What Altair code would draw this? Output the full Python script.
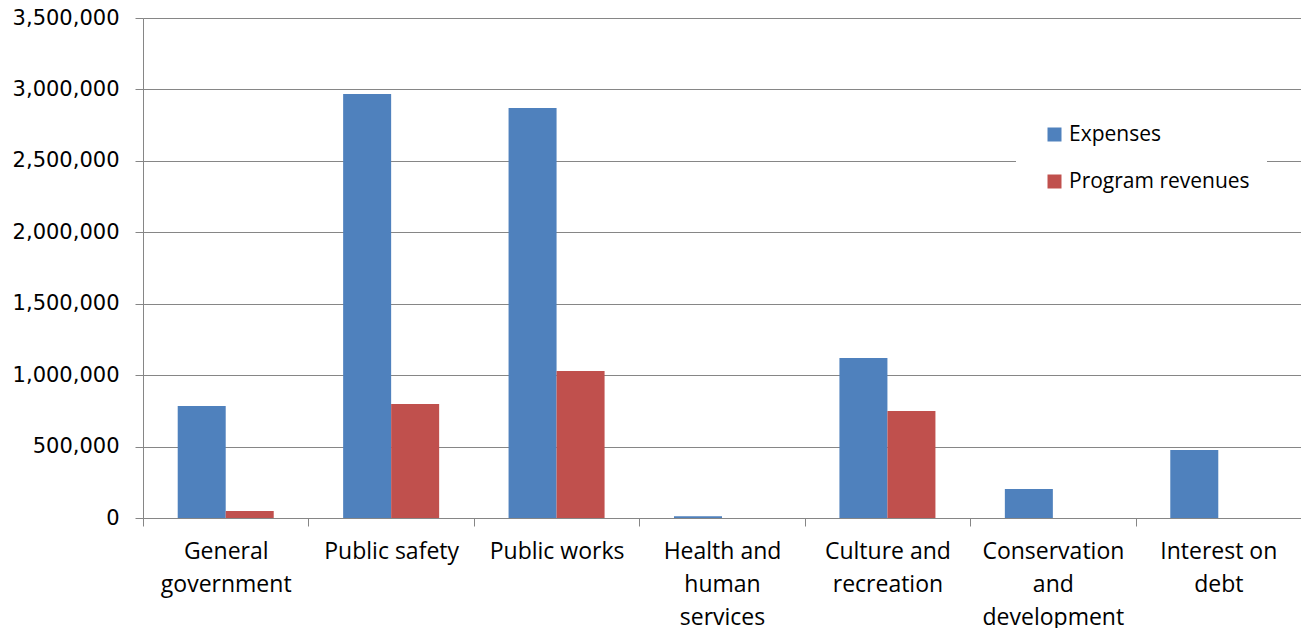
import altair as alt
import pandas as pd

categories = [
    "General|government",
    "Public safety",
    "Public works",
    "Health and|human|services",
    "Culture and|recreation",
    "Conservation|and|development",
    "Interest on|debt",
]
expenses = [784000, 2968000, 2870000, 12000, 1120000, 203000, 476000]
program_revenues = [49000, 798000, 1029000, 0, 749000, 0, 0]
series = ["Expenses", "Program revenues"]
colors = ["#4F81BD", "#C0504D"]
y_ticks = [0, 500000, 1000000, 1500000, 2000000, 2500000, 3000000, 3500000]

rows = []
for c, e, r in zip(categories, expenses, program_revenues):
    rows.append({"category": c, "series": series[0], "value": e})
    rows.append({"category": c, "series": series[1], "value": r})
df = pd.DataFrame(rows)

chart = alt.Chart(df).mark_bar().encode(
    x=alt.X(
        "category:N",
        sort=categories,
        scale=alt.Scale(paddingInner=0, paddingOuter=0),
        axis=alt.Axis(
            title=None,
            labelAngle=0,
            labelExpr="split(datum.label, '|')",
            labelFont="Open Sans",
            labelFontSize=23,
            labelColor="#000000",
            labelLineHeight=33,
            labelPadding=14,
            labelBaseline="top",
            labelLimit=300,
            tickBand="extent",
            tickSize=8,
            tickColor="#868686",
            domainColor="#868686",
            grid=False,
        ),
    ),
    xOffset=alt.XOffset(
        "series:N",
        sort=series,
        scale=alt.Scale(paddingInner=0, paddingOuter=0.723),
    ),
    y=alt.Y(
        "value:Q",
        scale=alt.Scale(domain=[0, 3500000], nice=False),
        axis=alt.Axis(
            title=None,
            values=y_ticks,
            format=",d",
            labelFont="DejaVu Sans",
            labelFontSize=21,
            labelColor="#000000",
            labelPadding=16,
            tickSize=8,
            tickColor="#868686",
            domainColor="#868686",
            gridColor="#868686",
            gridWidth=1.2,
        ),
    ),
    color=alt.Color(
        "series:N",
        sort=series,
        scale=alt.Scale(domain=series, range=colors),
        legend=alt.Legend(
            title=None,
            orient="none",
            legendX=873,
            legendY=89,
            fillColor="#FFFFFF",
            padding=17,
            symbolType="square",
            symbolSize=196,
            symbolStrokeWidth=0,
            symbolOffset=11,
            labelFont="Open Sans",
            labelFontSize=21,
            labelColor="#000000",
            labelOffset=4,
            labelLimit=400,
            rowPadding=25,
        ),
    ),
).properties(
    width=1158,
    height=500,
    autosize=alt.AutoSizeParams(type="none"),
    padding={"left": 135, "top": 10, "right": 0, "bottom": 110},
).configure_view(
    fill="#DDD9C3",
    stroke=None,
).configure(background="#FFFFFF")

chart.save("out.html", embed_options={"renderer": "svg", "actions": False})
